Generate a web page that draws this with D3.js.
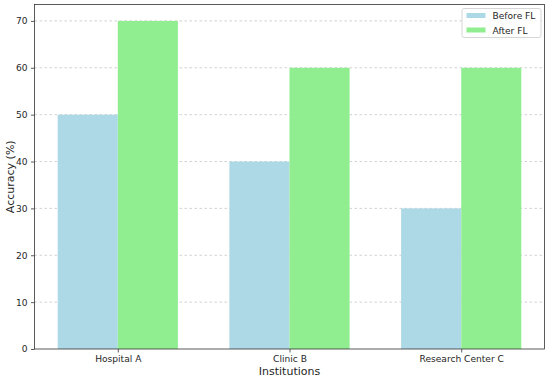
<!DOCTYPE html>
<html>
<head>
<meta charset="utf-8">
<script src="https://cdn.jsdelivr.net/npm/d3@7"></script>
<style>
    body { margin: 0; background: #fff; }
    text { font-family: "DejaVu Sans", sans-serif; fill: #262626; }
</style>
</head>
<body>
<svg id="chart" width="550" height="379"></svg>
<script>
var institutions = ["Hospital A", "Clinic B", "Research Center C"];
var beforeFL = [50, 40, 30];
var afterFL = [70, 60, 60];
var yTicks = [0, 10, 20, 30, 40, 50, 60, 70];
var seriesNames = ["Before FL", "After FL"];
var seriesColors = ["#add8e6", "#90ee90"];

var margin = {left: 34.5, right: 5.5, top: 4.5, bottom: 30};
var W = 550, H = 379;
var svg = d3.select("#chart");
var chart = svg.append("g");

var barW = 0.35;
// matplotlib-ish limits: data range -0.35..2.35 with 5% margins
var x = d3.scaleLinear()
    .domain([-0.485, 2.485])
    .range([margin.left, W - margin.right]);
var y = d3.scaleLinear()
    .domain([0, 73.5])
    .range([H - margin.bottom, margin.top]);

// grid
chart.selectAll(".grid")
    .data(yTicks.slice(1))
    .enter().append("line")
    .attr("x1", margin.left).attr("x2", W - margin.right)
    .attr("y1", d => y(d)).attr("y2", d => y(d))
    .attr("stroke", "#b0b0b0")
    .attr("stroke-width", 0.8)
    .attr("stroke-dasharray", "2.5,2.5")
    .attr("opacity", 0.7);

var series = [beforeFL, afterFL];
series.forEach((vals, s) => {
    chart.selectAll(".bar" + s)
        .data(vals)
        .enter().append("rect")
        .attr("x", (d, i) => x(i + (s === 0 ? -barW : 0)))
        .attr("width", x(barW) - x(0))
        .attr("y", d => y(d))
        .attr("height", d => y(0) - y(d))
        .attr("fill", seriesColors[s]);
});

// axes
var xAxis = d3.axisBottom(x)
    .tickValues([0, 1, 2])
    .tickFormat((d, i) => institutions[i])
    .tickSize(3.5).tickPadding(3.5);
var gx = chart.append("g")
    .attr("transform", "translate(0," + y(0) + ")")
    .call(xAxis);

var yAxis = d3.axisLeft(y)
    .tickValues(yTicks)
    .tickSize(3.5).tickPadding(3.5);
var gy = chart.append("g")
    .attr("transform", "translate(" + margin.left + ",0)")
    .call(yAxis);

[gx, gy].forEach(g => {
    g.select(".domain").remove();
    g.selectAll("text").attr("font-size", "9.1px").attr("fill", "#262626")
        .style("font-family", "DejaVu Sans, sans-serif");
    g.selectAll("line").attr("stroke", "#333").attr("stroke-width", 0.8);
});

// frame
chart.append("rect")
    .attr("x", margin.left).attr("y", margin.top)
    .attr("width", W - margin.left - margin.right)
    .attr("height", H - margin.top - margin.bottom)
    .attr("fill", "none")
    .attr("stroke", "#333")
    .attr("stroke-width", 0.8);

// labels
svg.append("text")
    .attr("x", (margin.left + W - margin.right) / 2)
    .attr("y", 375)
    .attr("text-anchor", "middle")
    .attr("font-size", "11px")
    .text("Institutions");

svg.append("text")
    .attr("transform", "translate(13.5," + (margin.top + H - margin.bottom) / 2 + ") rotate(-90)")
    .attr("text-anchor", "middle")
    .attr("font-size", "11px")
    .text("Accuracy (%)");

// legend
var legend = svg.append("g").attr("transform", "translate(462,8.5)");
legend.append("rect")
    .attr("width", 79).attr("height", 29).attr("rx", 2)
    .attr("fill", "#fff").attr("fill-opacity", 0.8)
    .attr("stroke", "#ccc").attr("stroke-width", 0.8);
seriesNames.forEach((n, i) => {
    legend.append("rect")
        .attr("x", 4.5).attr("y", 4.5 + i * 14.5)
        .attr("width", 19).attr("height", 5)
        .attr("fill", seriesColors[i]);
    legend.append("text")
        .attr("x", 30.5).attr("y", 10.5 + i * 14.5)
        .attr("font-size", "9.1px")
        .text(n);
});
</script>
</body>
</html>
